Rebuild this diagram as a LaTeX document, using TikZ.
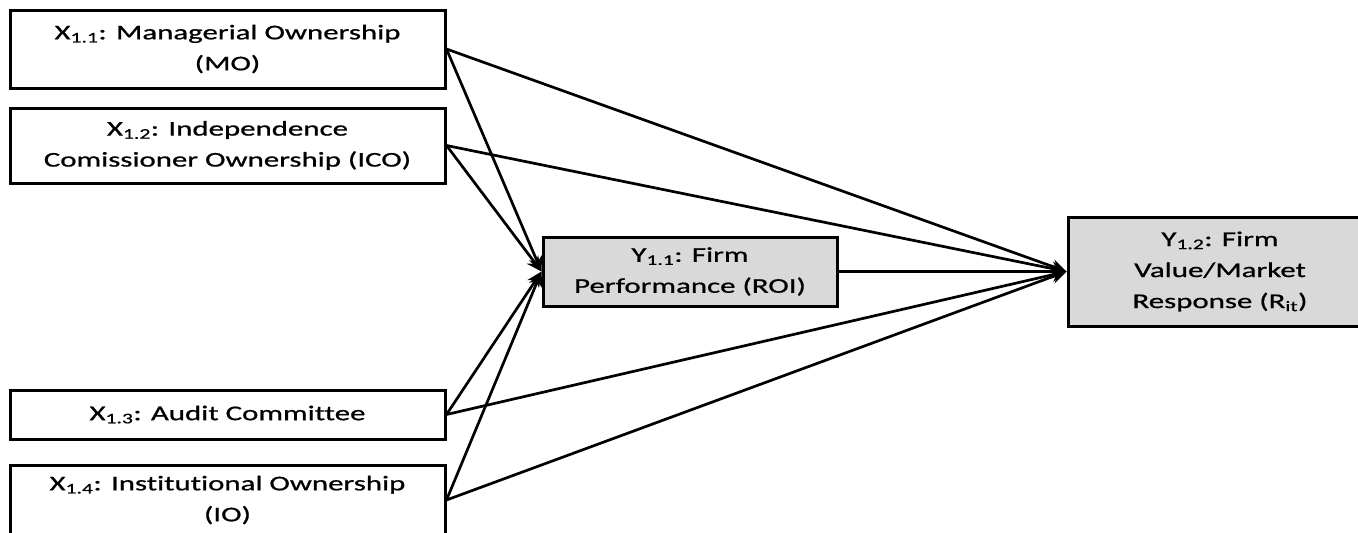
\documentclass[tikz,border=0pt]{standalone}
\usepackage{fontspec}
\setmainfont{Carlito}[FakeStretch=1.47,FakeBold=0.8,Ligatures=NoCommon]
\usetikzlibrary{arrows.meta,positioning}

\begin{document}
\begin{tikzpicture}[x=1pt,y=-1pt,->,>={Stealth[length=15pt,width=14pt]},line width=2.7pt]
  \tikzstyle{xbox}=[draw=black,line width=3pt,fill=white,align=center,inner sep=0pt,font=\fontsize{21}{31}\selectfont]
  \tikzstyle{ybox}=[xbox,fill=black!15]

  \useasboundingbox (0,0) rectangle (1358,533);

  \node[xbox,minimum width=435pt,minimum height=78pt] (mo)  at (227.5,49)  {X\textsubscript{1.1}: Managerial Ownership\\(MO)};
  \node[xbox,minimum width=435pt,minimum height=75pt] (ico) at (227.5,145.5) {X\textsubscript{1.2}: Independence\\Comissioner Ownership (ICO)};
  \node[xbox,minimum width=435pt,minimum height=49pt] (ac)  at (227.5,414.5) {X\textsubscript{1.3}: Audit Committee};
  \node[xbox,minimum width=435pt,minimum height=70pt] (io)  at (227.5,500)   {X\textsubscript{1.4}: Institutional Ownership\\(IO)};
  \node[ybox,minimum width=294pt,minimum height=69pt] (y11) at (690,271.5) {Y\textsubscript{1.1}: Firm\\Performance (ROI)};
  \node[ybox,minimum width=304pt,minimum height=109pt] (y12) at (1220,271.5) {Y\textsubscript{1.2}: Firm\\Value/Market\\Response (R\textsubscript{it})};

  \path
  (mo.east)  edge (y11.west)
             edge (y12.west)
  (ico.east) edge (y11.west)
             edge (y12.west)
  (ac.east)  edge (y11.west)
             edge (y12.west)
  (io.east)  edge (y11.west)
             edge (y12.west)
  (y11.east) edge (y12.west);
\end{tikzpicture}
\end{document}
